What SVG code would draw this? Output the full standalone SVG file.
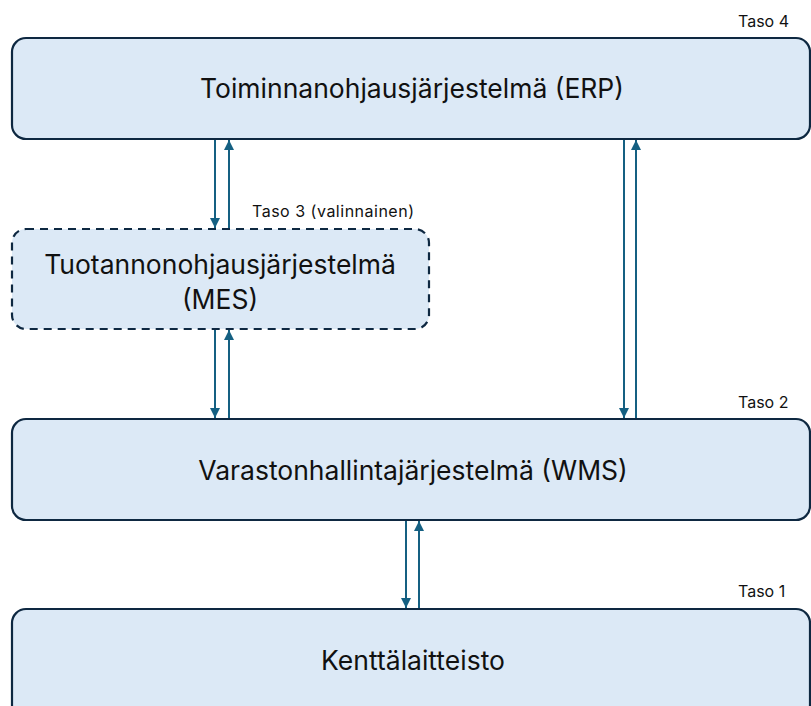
<svg xmlns="http://www.w3.org/2000/svg" width="811" height="706" viewBox="0 0 811 706">
<defs>
<style>
.box{fill:#DCE9F6;stroke:#0E2841;stroke-width:2.2}
.dash{stroke-dasharray:8 6}
.lbl{font-family:"Inter","Liberation Sans",sans-serif;font-size:26.5px;fill:#111;text-anchor:middle}
.taso{font-family:"Inter","Liberation Sans",sans-serif;font-size:16px;fill:#111}
.ar{stroke:#156082;stroke-width:2;fill:none;marker-end:url(#ah)}
</style>
<marker id="ah" viewBox="0 0 10 10" refX="10" refY="5" markerWidth="5" markerHeight="5" orient="auto" markerUnits="strokeWidth">
<path d="M0,0 L10,5 L0,10 Z" fill="#156082"/>
</marker>
</defs>
<rect width="811" height="706" fill="#fff"/>
<g id="erp">
<rect class="box" x="12" y="38" width="798" height="101" rx="14"/>
<text class="lbl" x="412" y="98">Toiminnanohjausjärjestelmä (ERP)</text>
<text class="taso" x="738" y="27">Taso 4</text>
</g>
<g id="mes">
<rect class="box dash" x="12" y="229" width="417" height="100" rx="14"/>
<text class="lbl" x="220" y="274">Tuotannonohjausjärjestelmä</text>
<text class="lbl" x="220" y="309">(MES)</text>
<text class="taso" x="252" y="217" textLength="162">Taso 3 (valinnainen)</text>
</g>
<g id="wms">
<rect class="box" x="12" y="419" width="798" height="101" rx="14"/>
<text class="lbl" x="413" y="480">Varastonhallintajärjestelmä (WMS)</text>
<text class="taso" x="738" y="408">Taso 2</text>
</g>
<g id="field">
<rect class="box" x="12" y="609" width="798" height="110" rx="14"/>
<text class="lbl" x="413" y="670">Kenttälaitteisto</text>
<text class="taso" x="738" y="597">Taso 1</text>
</g>
<g id="connectors">
<line class="ar" x1="215" y1="140" x2="215" y2="228"/>
<line class="ar" x1="229" y1="228" x2="229" y2="140"/>
<line class="ar" x1="215" y1="330" x2="215" y2="418"/>
<line class="ar" x1="229" y1="418" x2="229" y2="330"/>
<line class="ar" x1="624" y1="140" x2="624" y2="418"/>
<line class="ar" x1="636" y1="418" x2="636" y2="140"/>
<line class="ar" x1="406" y1="521" x2="406" y2="608"/>
<line class="ar" x1="419" y1="608" x2="419" y2="521"/>
</g>
</svg>
